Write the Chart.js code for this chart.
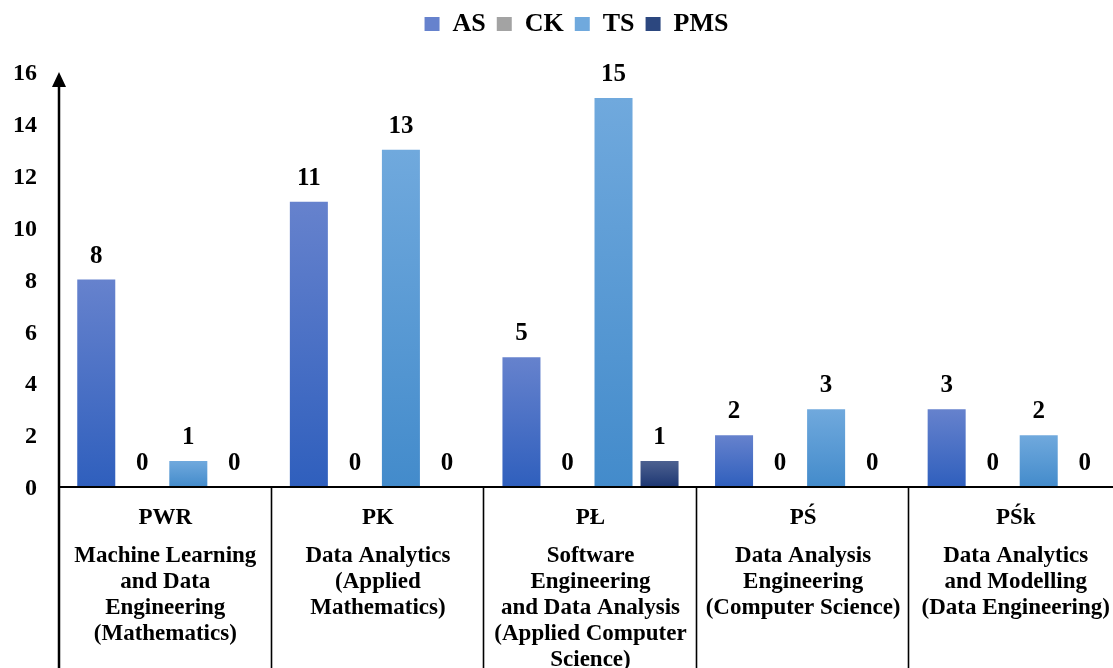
<!DOCTYPE html>
<html><head><meta charset="utf-8">
<script src="https://cdn.jsdelivr.net/npm/chart.js@4/dist/chart.umd.min.js"></script>
<style>html,body{margin:0;padding:0;overflow:hidden;background:#fff}#wrap{width:1153px;height:668px;position:relative}</style>
</head><body><div id="wrap"><canvas id="c"></canvas></div>
<script>
const universityCodes = ['PWR', 'PK', 'PŁ', 'PŚ', 'PŚk'];
const programmeNames = [
  ['Machine Learning', 'and Data', 'Engineering', '(Mathematics)'],
  ['Data Analytics', '(Applied', 'Mathematics)'],
  ['Software', 'Engineering', 'and Data Analysis', '(Applied Computer', 'Science)'],
  ['Data Analysis', 'Engineering', '(Computer Science)'],
  ['Data Analytics', 'and Modelling', '(Data Engineering)']
];
const seriesNames = ['AS', 'CK', 'TS', 'PMS'];
const asValues = [8, 11, 5, 2, 3];
const ckValues = [0, 0, 0, 0, 0];
const tsValues = [1, 13, 15, 3, 2];
const pmsValues = [0, 0, 1, 0, 0];
const yTicks = [0, 2, 4, 6, 8, 10, 12, 14, 16];

const FONT = 'Liberation Serif';

function grad(top, bottom, flat) {
  return function (ctx) {
    const chart = ctx.chart;
    if (ctx.type !== 'data' || !chart.chartArea || !chart.scales.y) return flat;
    const ys = chart.scales.y;
    const v = ctx.parsed ? ctx.parsed.y : ctx.raw;
    const y0 = ys.getPixelForValue(0), y1 = ys.getPixelForValue(v);
    if (Math.abs(y0 - y1) < 1) return flat;
    const g = chart.ctx.createLinearGradient(0, y1, 0, y0);
    g.addColorStop(0, top);
    g.addColorStop(1, bottom);
    return g;
  };
}

const axisPlugin = {
  id: 'axisDecor',
  afterDatasetsDraw(chart) {
    const { ctx, chartArea: a, scales: { x, y } } = chart;
    const y0 = y.getPixelForValue(0);
    const yTop = y.getPixelForValue(yTicks[yTicks.length - 1]);
    const half = (x.getPixelForValue(1) - x.getPixelForValue(0)) / 2;
    ctx.save();
    ctx.strokeStyle = '#000';
    ctx.fillStyle = '#000';
    // x axis line
    ctx.lineWidth = 2;
    ctx.beginPath(); ctx.moveTo(a.left, y0); ctx.lineTo(a.right, y0); ctx.stroke();
    // separators below axis
    ctx.lineWidth = 1.6;
    for (let i = 1; i <= universityCodes.length; i++) {
      const px = Math.round(x.getPixelForValue(i - 1) + half) - 0.5;
      ctx.beginPath(); ctx.moveTo(px, y0); ctx.lineTo(px, chart.height); ctx.stroke();
    }
    // y axis with arrow
    const lx = a.left;
    ctx.lineWidth = 2.5;
    ctx.beginPath(); ctx.moveTo(lx, chart.height); ctx.lineTo(lx, yTop + 10); ctx.stroke();
    ctx.beginPath();
    ctx.moveTo(lx, yTop);
    ctx.lineTo(lx - 7, yTop + 15);
    ctx.lineTo(lx + 7, yTop + 15);
    ctx.closePath(); ctx.fill();
    // data labels
    ctx.font = 'bold 25px "' + FONT + '"';
    ctx.textAlign = 'center';
    ctx.textBaseline = 'alphabetic';
    chart.data.datasets.forEach((ds, di) => {
      const meta = chart.getDatasetMeta(di);
      if (meta.hidden) return;
      meta.data.forEach((el, i) => {
        ctx.fillText(String(ds.data[i]), el.x, el.y - 17);
      });
    });
    ctx.restore();
  }
};

new Chart(document.getElementById('c'), {
  type: 'bar',
  data: {
    labels: universityCodes,
    datasets: [
      { label: seriesNames[0], data: asValues, backgroundColor: grad('#6682cd', '#2f5fbd', '#4a70c6') },
      { label: seriesNames[1], data: ckValues, backgroundColor: grad('#b5b5b5', '#8f8f8f', '#a3a3a3') },
      { label: seriesNames[2], data: tsValues, backgroundColor: grad('#70a9dd', '#438bcb', '#5b9bd5') },
      { label: seriesNames[3], data: pmsValues, backgroundColor: grad('#4d6190', '#1d3773', '#2c477f') }
    ]
  },
  options: {
    responsive: true,
    maintainAspectRatio: false,
    animation: false,
    layout: { padding: 0 },
    datasets: { bar: { categoryPercentage: 0.866, barPercentage: 0.826 } },
    plugins: {
      legend: {
        position: 'top',
        labels: {
          font: { family: FONT, size: 26, weight: 'bold' },
          color: '#000',
          boxWidth: 15,
          boxHeight: 14,
          padding: 11
        }
      },
      tooltip: { enabled: false }
    },
    scales: {
      x: {
        position: 'bottom',
        grid: { display: false, drawTicks: false },
        border: { display: false },
        ticks: {
          font: { family: FONT, size: 23, weight: 'bold', lineHeight: '26px' },
          color: '#000',
          maxRotation: 0, minRotation: 0, autoSkip: false,
          padding: 18
        },
        afterFit(s) { s.height = 44; }
      },
      xProgramme: {
        type: 'category',
        position: 'bottom',
        labels: programmeNames,
        grid: { display: false, drawTicks: false },
        border: { display: false },
        ticks: {
          font: { family: FONT, size: 23, weight: 'bold', lineHeight: '26px' },
          color: '#000',
          maxRotation: 0, minRotation: 0, autoSkip: false,
          padding: 12
        },
        afterFit(s) { s.height = 137; }
      },
      xTopSpace: {
        type: 'category',
        position: 'top',
        display: true,
        grid: { display: false, drawTicks: false },
        border: { display: false },
        ticks: { display: false },
        afterFit(s) { s.height = 25; }
      },
      y: {
        position: 'left',
        min: 0, max: 16,
        grid: { display: false, drawTicks: false },
        border: { display: false },
        afterBuildTicks(s) { s.ticks = yTicks.map(v => ({ value: v })); },
        ticks: {
          font: { family: FONT, size: 24, weight: 'bold' },
          color: '#000',
          padding: 22,
          labelOffset: 2
        },
        afterFit(s) { s.width = 59; }
      },
      yRightSpace: {
        type: 'linear',
        position: 'right',
        display: true,
        grid: { display: false, drawTicks: false },
        border: { display: false },
        ticks: { display: false },
        afterFit(s) { s.width = 31; }
      }
    }
  },
  plugins: [axisPlugin]
});
</script>
</body></html>
